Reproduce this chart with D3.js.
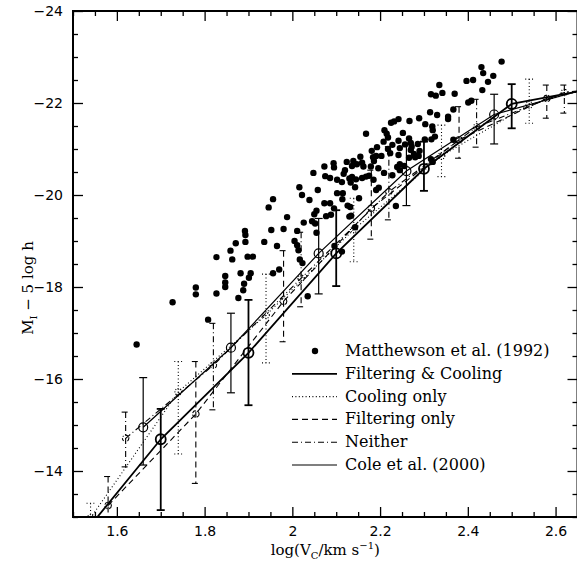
<!DOCTYPE html>
<meta charset="utf-8">
<style>
body { margin: 0; background: #fff; }
.tick text { font-family: "DejaVu Sans", sans-serif; font-size: 14px; fill: #000; }
.label { font-family: "DejaVu Serif", serif; font-size: 15px; fill: #000; }
.legend text { font-family: "DejaVu Serif", serif; font-size: 16px; fill: #000; }
</style>
<svg width="577" height="561"></svg>
<script src="https://d3js.org/d3.v7.min.js"></script>
<script>
// Matthewson et al. (1992) galaxies: log(Vc) and M_I - 5 log h
const scatterLogV = [1.645, 1.727, 1.780, 1.780, 1.808, 1.827, 1.827, 1.847, 1.847, 1.847,
  1.859, 1.863, 1.871, 1.877, 1.882, 1.890, 1.888, 1.892, 1.893, 1.893,
  1.901, 1.898, 1.905, 1.910, 1.936, 1.946, 1.952, 1.956, 1.956, 1.965,
  1.970, 1.980, 1.988, 2.005, 2.011, 2.014, 2.017, 2.023, 2.011, 2.016,
  2.022, 2.026, 2.035, 2.039, 2.045, 2.048, 2.050, 2.052, 2.055, 2.055,
  2.058, 2.073, 2.075, 2.073, 2.077, 2.086, 2.088, 2.094, 2.095, 2.095,
  2.096, 2.102, 2.102, 2.115, 2.114, 2.113, 2.117, 2.120, 2.124, 2.126,
  2.130, 2.130, 2.132, 2.152, 2.191, 2.197, 2.143, 2.236, 2.086, 2.113,
  2.133, 2.143, 2.159, 2.168, 2.175, 2.155, 2.159, 2.139, 2.147, 2.136,
  2.134, 2.136, 2.145, 2.162, 2.168, 2.181, 2.184, 2.186, 2.193, 2.191,
  2.203, 2.208, 2.210, 2.215, 2.218, 2.218, 2.223, 2.209, 2.196, 2.185,
  2.228, 2.225, 2.232, 2.242, 2.228, 2.242, 2.239, 2.245, 2.255, 2.245,
  2.242, 2.245, 2.252, 2.257, 2.272, 2.266, 2.267, 2.266, 2.270, 2.277,
  2.280, 2.270, 2.286, 2.289, 2.290, 2.288, 2.303, 2.319, 2.302, 2.314,
  2.316, 2.320, 2.316, 2.327, 2.342, 2.320, 2.325, 2.317, 2.330, 2.335,
  2.355, 2.355, 2.367, 2.367, 2.370, 2.397, 2.412, 2.401, 2.408, 2.431,
  2.435, 2.433, 2.446, 2.458, 2.477, 2.179];
const scatterMag = [-16.75, -17.67, -17.99, -17.84, -17.29, -18.65, -17.86, -18.24, -18.10, -18.00,
  -18.79, -18.60, -18.95, -17.76, -18.30, -18.07, -17.93, -19.22, -19.13, -18.98,
  -18.20, -18.66, -18.30, -18.66, -18.98, -19.73, -19.24, -19.91, -18.30, -18.89,
  -18.38, -19.26, -19.52, -19.00, -18.91, -18.80, -18.60, -18.52, -19.22, -20.17,
  -20.00, -19.40, -17.80, -19.89, -19.43, -20.48, -19.58, -19.38, -19.18, -19.66,
  -20.11, -20.62, -20.41, -19.82, -19.54, -19.82, -19.57, -20.69, -20.60, -19.71,
  -18.89, -20.33, -20.04, -20.04, -19.91, -18.77, -20.46, -20.54, -20.72, -19.77,
  -19.53, -20.36, -19.74, -19.93, -20.11, -20.16, -19.30, -19.76, -20.37, -20.28,
  -20.27, -20.17, -20.37, -20.40, -20.42, -20.83, -20.70, -20.74, -20.67, -20.63,
  -19.55, -20.39, -20.34, -20.62, -21.33, -20.96, -20.82, -20.74, -21.04, -20.85,
  -20.85, -21.16, -21.41, -21.33, -21.25, -21.00, -20.91, -20.48, -20.58, -20.33,
  -20.43, -21.57, -21.60, -21.65, -21.09, -21.18, -20.61, -20.67, -20.63, -20.54,
  -20.87, -21.02, -21.35, -21.10, -21.05, -21.23, -21.61, -20.81, -20.98, -20.89,
  -20.82, -21.13, -21.11, -21.67, -20.96, -20.85, -21.54, -21.49, -21.21, -21.80,
  -20.78, -20.72, -22.19, -22.16, -22.22, -21.41, -21.27, -21.21, -21.74, -22.39,
  -21.70, -21.65, -21.86, -21.20, -22.20, -22.48, -22.50, -22.01, -22.05, -22.78,
  -22.65, -22.28, -22.46, -22.59, -22.90, -20.62];

// model bins: [log Vc, median mag, upper error end, lower error end]
const filtCool = [[1.50, -12.35, null, null], [1.70, -14.69, -15.35, -13.15], [1.90, -16.57, -17.72, -15.43],
  [2.10, -18.73, -19.67, -18.02], [2.30, -20.57, -21.16, -20.09], [2.50, -21.98, -22.41, -21.45], [2.70, -22.34, null, null]];
const coolOnly = [[1.54, -12.98, -13.30, -12.60], [1.74, -15.72, -16.38, -14.37], [1.94, -17.39, -18.28, -16.35],
  [2.14, -19.25, -19.93, -18.55], [2.34, -20.85, -21.52, -20.40], [2.54, -21.96, -22.52, -21.56], [2.74, -22.49, null, null]];
const filtOnly = [[1.58, -13.25, -13.88, -12.50], [1.78, -15.24, -16.38, -13.73], [1.98, -17.69, -18.79, -16.81],
  [2.18, -19.71, -20.54, -19.04], [2.38, -21.20, -21.92, -20.80], [2.58, -22.10, -22.39, -21.67], [2.78, -22.53, null, null]];
const neither = [[1.62, -14.71, -15.28, -14.09], [1.82, -16.30, -17.21, -15.33], [2.02, -18.19, -19.19, -17.57],
  [2.22, -20.07, -21.05, -19.46], [2.42, -21.48, -22.08, -21.04], [2.62, -22.23, -22.39, -21.78], [2.82, -22.45, null, null]];
const cole2000 = [[1.66, -14.95, -16.03, -14.13], [1.86, -16.68, -17.43, -15.70], [2.06, -18.73, -19.49, -17.85],
  [2.26, -20.52, -21.12, -19.77], [2.46, -21.75, -22.19, -21.11], [2.66, -22.28, null, null]];

const xTicks = [1.6, 1.8, 2, 2.2, 2.4, 2.6];
const yTicks = [-24, -22, -20, -18, -16, -14];
const legendLabels = ["Matthewson et al. (1992)", "Filtering & Cooling", "Cooling only", "Filtering only", "Neither", "Cole et al. (2000)"];

let svg = d3.select("svg");
let pLeft = 73, pRight = 577.5, pTop = 11, pBottom = 517;

let x = d3.scaleLinear().domain([1.5, 2.65]).range([pLeft, pRight]);
let y = d3.scaleLinear().domain([-13, -24]).range([pBottom, pTop]);

// line styles, same order as the legend (after the dots)
let styles = [
  {rows: filtCool, width: 1.8, dash: null, r: 5, cdash: null},
  {rows: coolOnly, width: 1.1, dash: "1,2.4", r: 3.3, cdash: "1,1.4"},
  {rows: filtOnly, width: 1.1, dash: "6,4", r: 3.3, cdash: "4,1.5"},
  {rows: neither, width: 1.1, dash: "6,3,1,3", r: 3.2, cdash: "3,1.5,1,1.5"},
  {rows: cole2000, width: 1.2, dash: null, r: 4.5, cdash: null}
];

svg.append("clipPath").attr("id", "plot")
  .append("rect").attr("x", pLeft).attr("y", pTop).attr("width", pRight - pLeft).attr("height", pBottom - pTop);

let plot = svg.append("g").attr("clip-path", "url(#plot)");

let line = d3.line()
  .x(function(d) { return x(d[0]); })
  .y(function(d) { return y(d[1]); });

styles.forEach(function(s) {
  let g = plot.append("g")
    .attr("fill", "none")
    .attr("stroke", "#000")
    .attr("stroke-width", s.width)
    .attr("stroke-dasharray", s.dash);

  g.append("path").attr("d", line(s.rows));

  let bars = s.rows.filter(function(d) { return d[2] !== null; });
  g.selectAll("line.bar").data(bars).enter().append("line")
    .attr("x1", function(d) { return x(d[0]); })
    .attr("x2", function(d) { return x(d[0]); })
    .attr("y1", function(d) { return y(d[2]); })
    .attr("y2", function(d) { return y(d[3]); });
  // caps on both ends
  [2, 3].forEach(function(k) {
    g.selectAll("line.cap" + k).data(bars).enter().append("line")
      .attr("x1", function(d) { return x(d[0]) - 4; })
      .attr("x2", function(d) { return x(d[0]) + 4; })
      .attr("y1", function(d) { return y(d[k]); })
      .attr("y2", function(d) { return y(d[k]); })
      .attr("stroke-dasharray", null);
  });

  g.selectAll("circle").data(bars).enter().append("circle")
    .attr("cx", function(d) { return x(d[0]); })
    .attr("cy", function(d) { return y(d[1]); })
    .attr("r", s.r)
    .attr("stroke-dasharray", s.cdash);
});

plot.append("g").selectAll("circle")
  .data(d3.zip(scatterLogV, scatterMag))
  .enter().append("circle")
  .attr("cx", function(d) { return x(d[0]); })
  .attr("cy", function(d) { return y(d[1]); })
  .attr("r", 3.2)
  .attr("fill", "#000");

// axes, ticks pointing inwards
let xMinor = d3.range(1.5, 2.66, 0.05).map(function(v) { return +v.toFixed(2); })
  .filter(function(v) { return xTicks.indexOf(v) < 0; });
let yMinor = d3.range(-24, -12.9, 0.5).filter(function(v) { return yTicks.indexOf(v) < 0; });

function fmtX(d) { return d === 2 ? "2" : d.toFixed(1); }
function fmtY(d) { return "\u2212" + Math.abs(d); }

function addAxis(axis, tx, ty) {
  let g = svg.append("g").attr("transform", "translate(" + tx + "," + ty + ")").call(axis);
  g.select(".domain").remove();
  g.selectAll(".tick line").attr("stroke-width", 1.3);
  return g;
}

addAxis(d3.axisBottom(x).tickValues(xTicks).tickSize(-10).tickPadding(9).tickFormat(fmtX), 0, pBottom);
addAxis(d3.axisBottom(x).tickValues(xMinor).tickSize(-5).tickFormat(""), 0, pBottom);
addAxis(d3.axisTop(x).tickValues(xTicks).tickSize(-10).tickFormat(""), 0, pTop);
addAxis(d3.axisTop(x).tickValues(xMinor).tickSize(-5).tickFormat(""), 0, pTop);
addAxis(d3.axisLeft(y).tickValues(yTicks).tickSize(-10).tickPadding(10).tickFormat(fmtY), pLeft, 0);
addAxis(d3.axisLeft(y).tickValues(yMinor).tickSize(-5).tickFormat(""), pLeft, 0);
addAxis(d3.axisRight(y).tickValues(yTicks).tickSize(-10).tickFormat(""), pRight, 0);
addAxis(d3.axisRight(y).tickValues(yMinor).tickSize(-5).tickFormat(""), pRight, 0);

svg.append("rect")
  .attr("x", pLeft).attr("y", pTop)
  .attr("width", pRight - pLeft).attr("height", pBottom - pTop)
  .attr("fill", "none").attr("stroke", "#000").attr("stroke-width", 2);

// axis titles
let xl = svg.append("text").attr("class", "label")
  .attr("x", (pLeft + pRight) / 2).attr("y", 555).attr("text-anchor", "middle");
xl.append("tspan").text("log(V");
xl.append("tspan").attr("font-size", "10px").attr("dy", 4).text("C");
xl.append("tspan").attr("dy", -4).text("/km s");
xl.append("tspan").attr("font-size", "10px").attr("dy", -6).text("\u22121");
xl.append("tspan").attr("dy", 6).text(")");

let yl = svg.append("text").attr("class", "label")
  .attr("transform", "translate(33,288) rotate(-90)").attr("text-anchor", "middle");
yl.append("tspan").text("M");
yl.append("tspan").attr("font-size", "10px").attr("dy", 4).text("I");
yl.append("tspan").attr("dy", -4).text(" \u2212 5 log h");

// legend
let legend = svg.append("g").attr("class", "legend");
let rowY = function(i) { return 351 + i * 22.8; };
legendLabels.forEach(function(label, i) {
  if (i === 0) {
    legend.append("circle").attr("cx", 315).attr("cy", rowY(i)).attr("r", 3.2).attr("fill", "#000");
  } else {
    let s = styles[i - 1];
    legend.append("line")
      .attr("x1", 292).attr("x2", 337)
      .attr("y1", rowY(i)).attr("y2", rowY(i))
      .attr("stroke", "#000").attr("stroke-width", s.width)
      .attr("stroke-dasharray", s.dash);
  }
  legend.append("text").attr("x", 345).attr("y", rowY(i) + 5).text(label);
});
</script>
